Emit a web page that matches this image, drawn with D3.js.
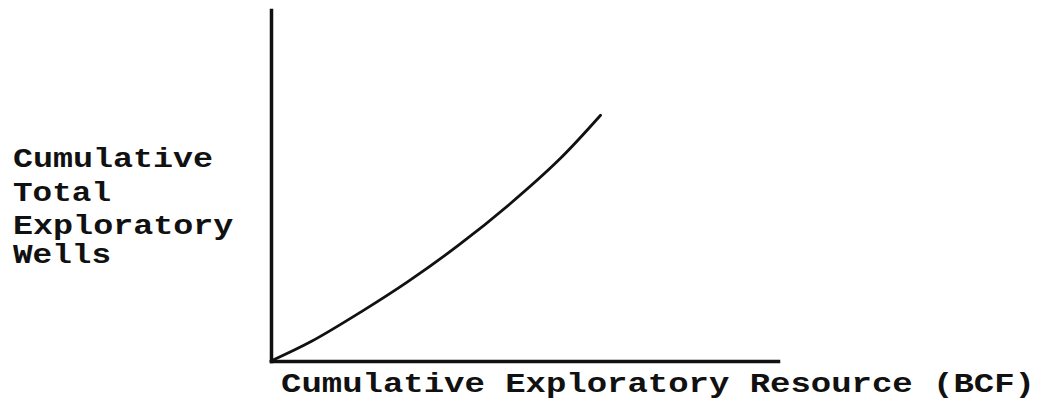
<!DOCTYPE html>
<html>
<head>
<meta charset="utf-8">
<script src="https://cdn.jsdelivr.net/npm/d3@7"></script>
<style>
  html, body { margin: 0; padding: 0; background: #fff; }
  svg { display: block; }
  .lbl { font-family: "Liberation Mono", "DejaVu Sans Mono", monospace; font-weight: bold; font-size: 28px; fill: #111; }
</style>
</head>
<body>
<svg id="chart" width="1053" height="404"></svg>
<script>
// Cumulative exploratory resource (relative units) and cumulative total exploratory wells
const resource = [0, 8, 18, 27, 37, 47, 57, 65];
const wells    = [0, 5.6, 14.2, 22.6, 33, 44.6, 57.6, 70];
const yLabelLines = ["Cumulative", "Total", "Exploratory", "Wells"];
const xLabelText = "Cumulative Exploratory Resource (BCF)";

const svg = d3.select("#chart");

const x = d3.scaleLinear().domain([0, 100]).range([271, 778]);
const y = d3.scaleLinear().domain([0, 100]).range([361, 10]);

// Axes: bare lines, no ticks
const xAxis = svg.append("g")
  .attr("transform", `translate(0,${y(0)})`)
  .call(d3.axisBottom(x).ticks(0).tickSizeOuter(0));
const yAxis = svg.append("g")
  .attr("transform", `translate(${x(0)},0)`)
  .call(d3.axisLeft(y).ticks(0).tickSizeOuter(0));
[xAxis, yAxis].forEach(g => {
  g.selectAll(".tick").remove();
  g.select(".domain").attr("stroke", "#111").attr("stroke-width", 3.5).attr("stroke-linecap", "square");
});

// Curve
const pts = resource.map((r, i) => [r, wells[i]]);
svg.append("path")
  .datum(pts)
  .attr("fill", "none")
  .attr("stroke", "#111")
  .attr("stroke-width", 2.8)
  .attr("stroke-linecap", "round")
  .attr("d", d3.line().x(d => x(d[0])).y(d => y(d[1])).curve(d3.curveCatmullRom));

// Y label (stacked lines)
const yBase = [167, 201, 234, 263];
svg.selectAll("text.ylab")
  .data(yLabelLines)
  .join("text")
  .attr("class", "lbl ylab")
  .attr("x", 13)
  .attr("y", (d, i) => yBase[i])
  .attr("textLength", d => d.length * 20.4 - 4)
  .attr("lengthAdjust", "spacingAndGlyphs")
  .text(d => d);

// X label
svg.append("text")
  .attr("class", "lbl")
  .attr("x", 281)
  .attr("y", 392)
  .attr("textLength", 754)
  .attr("lengthAdjust", "spacingAndGlyphs")
  .text(xLabelText);
</script>
</body>
</html>
